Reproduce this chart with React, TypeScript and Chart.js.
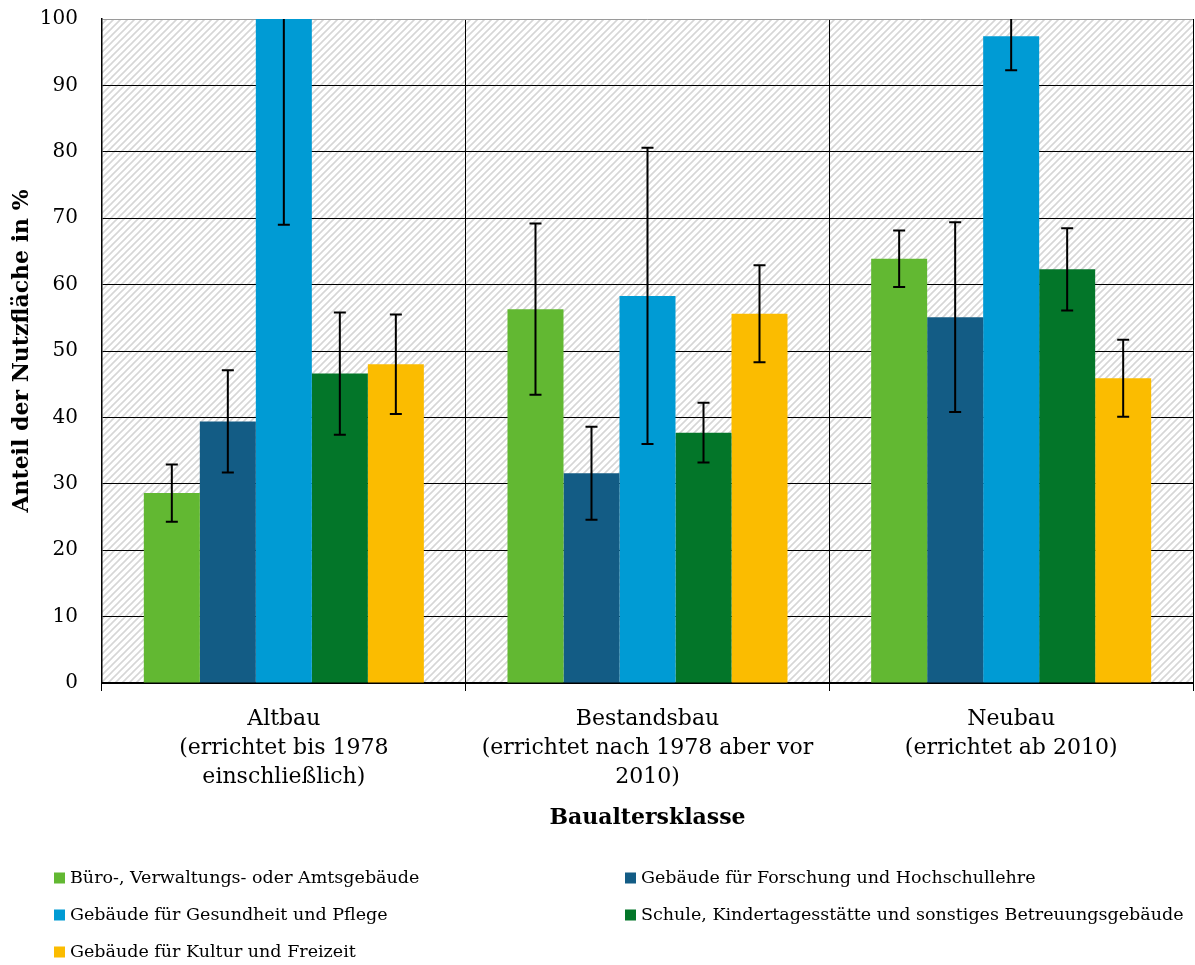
import React, { useEffect, useRef } from "react";
import { Chart, registerables } from "chart.js";

Chart.register(...registerables);

// ---------- DATA ----------
const categories: string[][] = [
  ["Altbau", "(errichtet bis 1978", "einschließlich)"],
  ["Bestandsbau", "(errichtet nach 1978 aber vor", "2010)"],
  ["Neubau", "(errichtet ab 2010)"],
];

const seriesNames = [
  "Büro-, Verwaltungs- oder Amtsgebäude",
  "Gebäude für Forschung und Hochschullehre",
  "Gebäude für Gesundheit und Pflege",
  "Schule, Kindertagesstätte und sonstiges Betreuungsgebäude",
  "Gebäude für Kultur und Freizeit",
];

const seriesColors = ["#62B832", "#135C85", "#009BD4", "#037629", "#FBBC00"];

const bueroValues = [28.6, 56.3, 63.9];
const bueroErrors = [4.3, 12.9, 4.25];
const forschungValues = [39.4, 31.6, 55.1];
const forschungErrors = [7.7, 7.0, 14.3];
const gesundheitValues = [100, 58.3, 97.4];
const gesundheitErrors = [31.0, 22.3, 5.1];
const schuleValues = [46.6, 37.7, 62.3];
const schuleErrors = [9.2, 4.5, 6.2];
const kulturValues = [48.0, 55.6, 45.9];
const kulturErrors = [7.5, 7.3, 5.8];

const seriesValues = [bueroValues, forschungValues, gesundheitValues, schuleValues, kulturValues];
const seriesErrors = [bueroErrors, forschungErrors, gesundheitErrors, schuleErrors, kulturErrors];

const yMin = 0;
const yMax = 100;
const yStep = 10;

const yTitle = "Anteil der Nutzfläche in %";
const xTitle = "Baualtersklasse";

// ---------- LAYOUT CONSTANTS ----------
const FONT = "'DejaVu Serif', serif";
const legendColumns = [54, 625];
const legendRows = [878, 915, 952];

// ---------- PLUGINS ----------
const hatchPlugin = {
  id: "hatchBackground",
  beforeDraw(chart: any) {
    const { ctx, chartArea } = chart;
    if (!chartArea) return;
    const size = 7;
    const tile = document.createElement("canvas");
    tile.width = size;
    tile.height = size;
    const t = tile.getContext("2d")!;
    t.fillStyle = "#ffffff";
    t.fillRect(0, 0, size, size);
    t.strokeStyle = "#d6d6d6";
    t.lineWidth = 1.6;
    t.beginPath();
    t.moveTo(-1, size + 1);
    t.lineTo(size + 1, -1);
    t.moveTo(-2, 2);
    t.lineTo(2, -2);
    t.moveTo(size - 2, size + 2);
    t.lineTo(size + 2, size - 2);
    t.stroke();
    const pattern = ctx.createPattern(tile, "repeat");
    ctx.save();
    ctx.fillStyle = pattern;
    ctx.fillRect(
      chartArea.left,
      chartArea.top,
      chartArea.right - chartArea.left,
      chartArea.bottom - chartArea.top
    );
    ctx.restore();
  },
};

const errorBarPlugin = {
  id: "errorBars",
  afterDatasetsDraw(chart: any) {
    const { ctx, chartArea } = chart;
    const y = chart.scales.y;
    ctx.save();
    ctx.beginPath();
    ctx.rect(chartArea.left, chartArea.top, chartArea.right - chartArea.left, chartArea.bottom - chartArea.top);
    ctx.clip();
    ctx.strokeStyle = "#000000";
    ctx.lineWidth = 2;
    chart.data.datasets.forEach((ds: any, i: number) => {
      const meta = chart.getDatasetMeta(i);
      meta.data.forEach((bar: any, j: number) => {
        const v = ds.data[j];
        const e = ds.errors[j];
        const yTop = y.getPixelForValue(v + e);
        const yBot = y.getPixelForValue(v - e);
        const x = bar.x;
        const cap = 6;
        ctx.beginPath();
        ctx.moveTo(x, yTop);
        ctx.lineTo(x, yBot);
        ctx.moveTo(x - cap, yTop);
        ctx.lineTo(x + cap, yTop);
        ctx.moveTo(x - cap, yBot);
        ctx.lineTo(x + cap, yBot);
        ctx.stroke();
      });
    });
    ctx.restore();
  },
};

const legendPlugin = {
  id: "gridLegend",
  afterDraw(chart: any) {
    const { ctx } = chart;
    ctx.save();
    ctx.font = `17.5px ${FONT}`;
    ctx.textBaseline = "middle";
    ctx.textAlign = "left";
    chart.data.datasets.forEach((ds: any, i: number) => {
      const col = i % 2;
      const row = Math.floor(i / 2);
      const x = legendColumns[col];
      const yc = legendRows[row];
      ctx.fillStyle = ds.backgroundColor;
      ctx.fillRect(x, yc - 5.5, 11, 11);
      ctx.fillStyle = "#000000";
      ctx.fillText(ds.label, x + 16, yc);
    });
    ctx.restore();
  },
};

export default function App() {
  const canvasRef = useRef<HTMLCanvasElement | null>(null);

  useEffect(() => {
    document.body.style.margin = "0";
    const canvas = canvasRef.current;
    if (!canvas) return;
    Chart.defaults.font.family = FONT;
    Chart.defaults.color = "#000000";

    const chart = new Chart(canvas, {
      type: "bar",
      data: {
        labels: categories,
        datasets: seriesNames.map((name, i) => ({
          label: name,
          data: seriesValues[i],
          errors: seriesErrors[i],
          backgroundColor: seriesColors[i],
          borderWidth: 0,
          categoryPercentage: 0.77,
          barPercentage: 1.0,
        })) as any,
      },
      options: {
        animation: false,
        responsive: true,
        maintainAspectRatio: false,
        layout: { padding: { left: 0, top: 19, right: 2, bottom: 135 } },
        plugins: {
          legend: { display: false },
          tooltip: { enabled: false },
        },
        scales: {
          x: {
            offset: true,
            grid: {
              offset: true,
              color: "#000000",
              lineWidth: 1,
              drawTicks: true,
              tickLength: 8,
            },
            border: { color: "#000000", width: 2 },
            ticks: {
              autoSkip: false,
              maxRotation: 0,
              minRotation: 0,
              padding: 14,
              color: "#000000",
              font: { size: 22, lineHeight: 1.32, family: FONT },
            },
            title: {
              display: true,
              text: xTitle,
              color: "#000000",
              padding: { top: 0, bottom: 0 },
              font: { size: 22, weight: "bold", lineHeight: 1.1, family: FONT },
            },
            afterFit(scale: any) {
              scale.height = 147;
              scale.paddingLeft = 0;
              scale.paddingRight = 0;
            },
          },
          y: {
            min: yMin,
            max: yMax,
            grid: {
              color: (c: any) => (c.tick && c.tick.value === yMax ? "#9a9a9a" : "#000000"),
              lineWidth: 1,
              drawTicks: false,
            },
            border: { color: "#000000", width: 1.5 },
            ticks: {
              stepSize: yStep,
              padding: 24,
              color: "#000000",
              font: { size: 20, family: FONT },
            },
            title: {
              display: true,
              text: yTitle,
              color: "#000000",
              padding: { top: 10, bottom: 0 },
              font: { size: 22, weight: "bold", lineHeight: 1.1, family: FONT },
            },
            afterFit(scale: any) {
              scale.width = 102;
              scale.paddingTop = 0;
              scale.paddingBottom = 0;
            },
          },
        },
      } as any,
      plugins: [hatchPlugin, errorBarPlugin, legendPlugin],
    });

    return () => {
      chart.destroy();
    };
  }, []);

  return (
    <div style={{ position: "relative", width: 1195, height: 965 }}>
      <canvas ref={canvasRef} />
    </div>
  );
}
